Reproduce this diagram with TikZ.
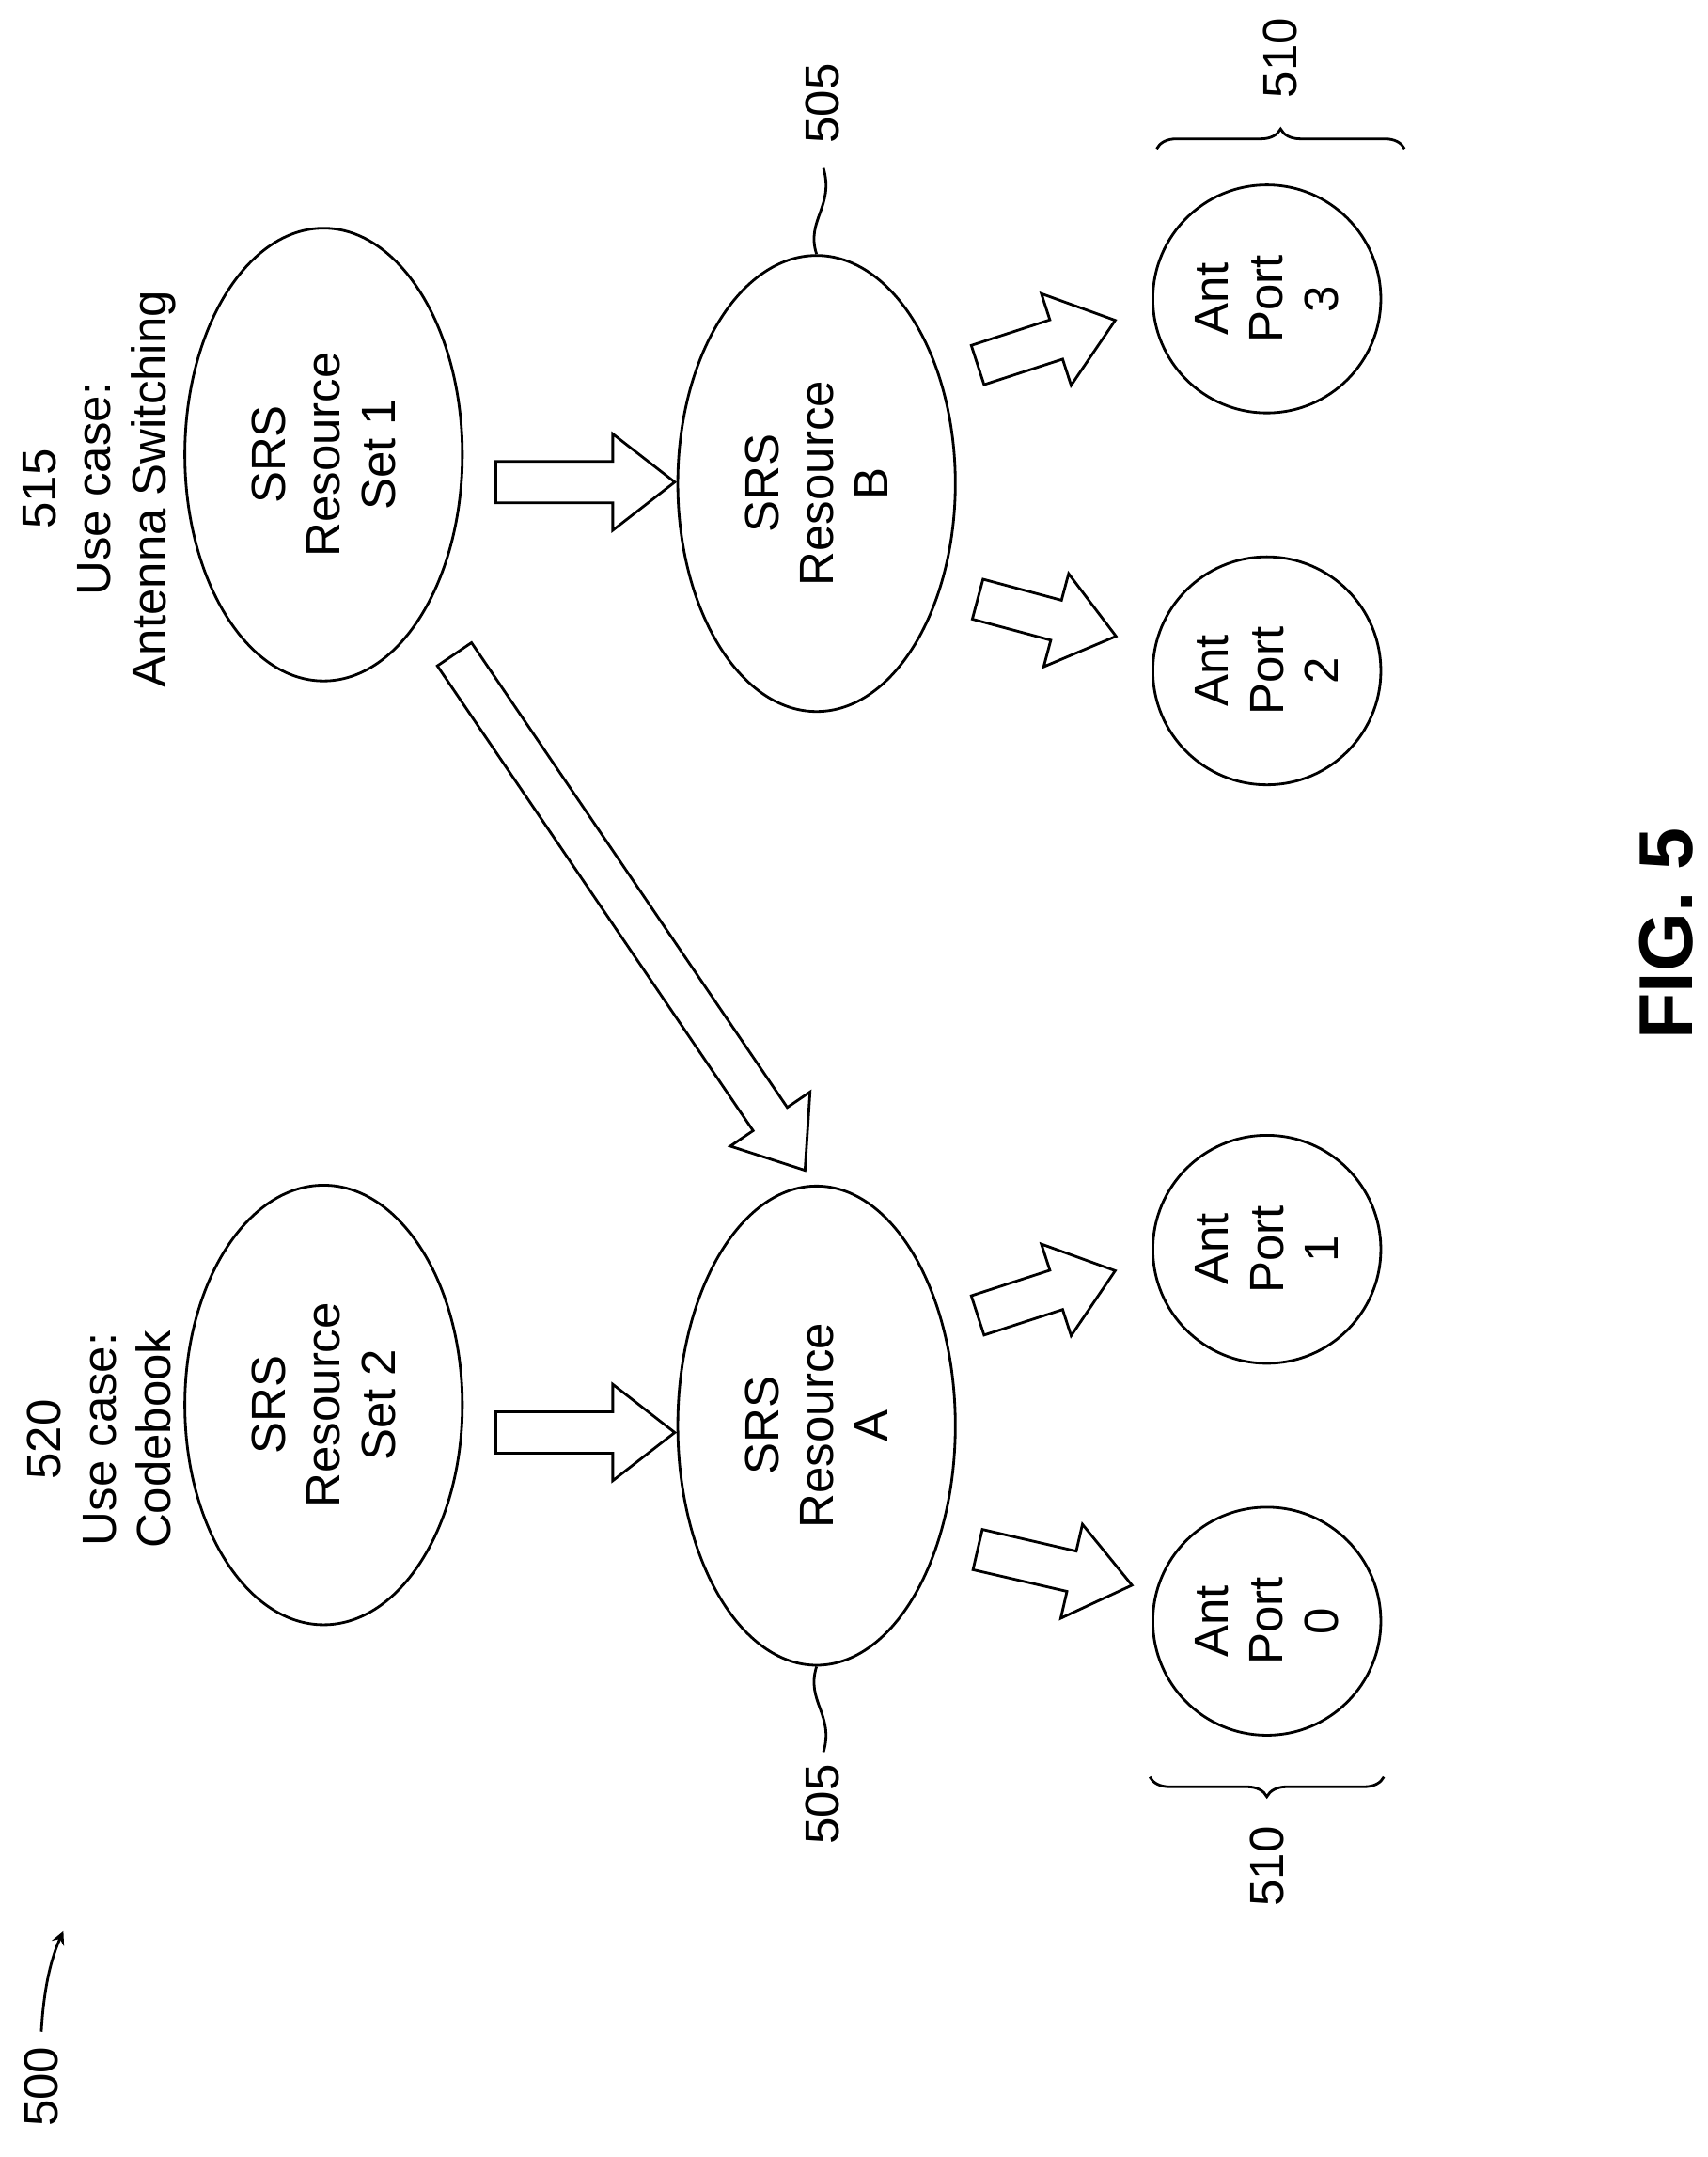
\documentclass[tikz,border=0pt]{standalone}
\usepackage{fontspec}
\setmainfont{Liberation Sans}
\usetikzlibrary{shapes.geometric,decorations.pathreplacing}

\tikzset{
  lbl/.style={rotate=90,align=center,font=\fontsize{14.5}{16.6}\selectfont,inner sep=0pt},
  res/.style={draw,thick,ellipse,minimum width=84pt},
  port/.style={draw,thick,circle,minimum size=69pt},
  blockarrow/.style={draw,thick,fill=white,line join=miter},
}
\newcommand\blockarrow[3]{%
  \draw[blockarrow,shift={#1},rotate=#2] (0,-15) -- ({#3-45},-15) -- ({#3-45},-35)
    -- (#3,0) -- ({#3-45},35) -- ({#3-45},15) -- (0,15) -- cycle;}

\begin{document}
\begin{tikzpicture}[x=0.01465cm,y=-0.01465cm]
  \useasboundingbox (0,0) rectangle (1240,1566);

  % resources
  \node[res,minimum height=137pt] (set1) at (235,330) {};
  \node[lbl] at (set1) {SRS\\Resource\\Set 1};
  \node[res,minimum height=133pt] (set2) at (235,1020) {};
  \node[lbl] at (set2) {SRS\\Resource\\Set 2};
  \node[res,minimum height=138pt] (resB) at (593,351) {};
  \node[lbl] at (resB) {SRS\\Resource\\B};
  \node[res,minimum height=145pt] (resA) at (593,1035) {};
  \node[lbl] at (resA) {SRS\\Resource\\A};

  % antenna ports
  \node[port] (p3) at (920,217) {};
  \node[lbl] at (p3) {Ant\\Port\\3};
  \node[port] (p2) at (920,487) {};
  \node[lbl] at (p2) {Ant\\Port\\2};
  \node[port] (p1) at (920,907) {};
  \node[lbl] at (p1) {Ant\\Port\\1};
  \node[port] (p0) at (920,1177) {};
  \node[lbl] at (p0) {Ant\\Port\\0};

  % block arrows
  \blockarrow{(360,350)}{0}{130}
  \blockarrow{(360,1040)}{0}{130}
  \blockarrow{(710,265)}{18}{105}
  \blockarrow{(710,435)}{-15}{104}
  \blockarrow{(710,955)}{18}{105}
  \blockarrow{(710,1125)}{-13}{115}
  \blockarrow{(330,475)}{-55.8}{453}

  % labels
  \node[lbl] (uc1) at (72,355) {515\\Use case:\\Antenna Switching};
  \node[lbl] (uc2) at (72,1045) {520\\Use case:\\Codebook};
  \node[lbl] (r505t) at (597,75) {505};
  \node[lbl] (r505b) at (597,1310) {505};
  \draw[thick] (resB.north) .. controls (585,160) and (606,150) .. (598,122);
  \draw[thick] (resA.south) .. controls (585,1235) and (606,1245) .. (598,1272);
  \draw[thick,decorate,decoration={brace,amplitude=6pt}] (840,108) -- (1020,108);
  \draw[thick,decorate,decoration={brace,amplitude=6pt,mirror}] (835,1290) -- (1005,1290);
  \node[lbl] (b510t) at (930,42) {510};
  \node[lbl] (b510b) at (920,1355) {510};

  \node[lbl] (fig) at (30,1515) {500};
  \draw[thick,-stealth] (30,1475) .. controls (32,1440) and (38,1420) .. (46,1402);
  \node[rotate=90,font=\fontsize{23}{28}\selectfont\bfseries] (title) at (1210,678) {FIG. 5};
\end{tikzpicture}
\end{document}
